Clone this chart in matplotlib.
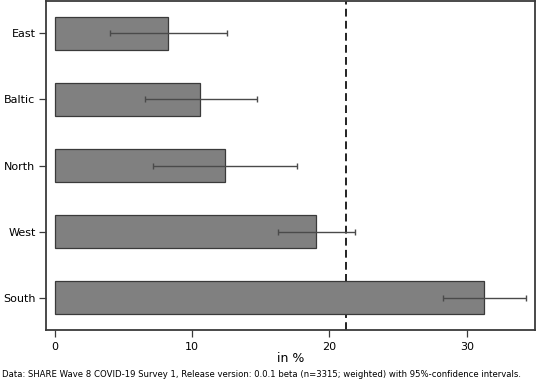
import matplotlib
matplotlib.use('Agg')
import matplotlib.pyplot as plt

plt.rcParams.update({
    'font.family': 'DejaVu Sans',
    'font.size':   8,
})

regions = ['East', 'Baltic', 'North', 'West', 'South']
share   = [8.28, 10.58, 12.4, 19.02, 31.26]
ci_low  = [4.02, 6.57, 7.15, 16.23, 28.3]
ci_high = [12.54, 14.7, 17.66, 21.89, 34.3]
overall = 21.2

fig = plt.figure(figsize=(5.36, 3.81), dpi=100)
ax = fig.add_axes([46 / 536, 51 / 381, 489 / 536, 329 / 381])

ypos = list(range(len(regions)))
# dashed reference line sits behind the bars
ax.axvline(overall, color='#222222', linewidth=1.4, linestyle=(0, (4, 2.2)), zorder=1)
ax.barh(ypos, share, height=0.5, color='#808080', edgecolor='#3a3a3a',
        linewidth=0.9, zorder=2)

err = [[s - lo for s, lo in zip(share, ci_low)],
       [hi - s for s, hi in zip(share, ci_high)]]
ax.errorbar(share, ypos, xerr=err, fmt='none', ecolor='#4a4a4a',
            elinewidth=1.0, capsize=2.5, capthick=1.0, zorder=3)

ax.set_yticks(ypos)
ax.set_yticklabels(regions)
ax.set_ylim(4.49, -0.49)
ax.set_xlim(-0.64, 34.97)
ax.set_xticks([0, 10, 20, 30])
ax.set_xlabel('in %', fontsize=9, labelpad=0)

for s in ax.spines.values():
    s.set_color('#3a3a3a')
    s.set_linewidth(1.3)
ax.tick_params(axis='both', length=5, width=0.9, color='#3a3a3a', labelsize=8)
ax.tick_params(axis='y', pad=2.5)

fig.text(0.004, 0.01, 'Data: SHARE Wave 8 COVID-19 Survey 1, Release version: 0.0.1 beta '
         '(n=3315; weighted) with 95%-confidence intervals.', fontsize=6.15)

fig.savefig('out.png', dpi=100)
